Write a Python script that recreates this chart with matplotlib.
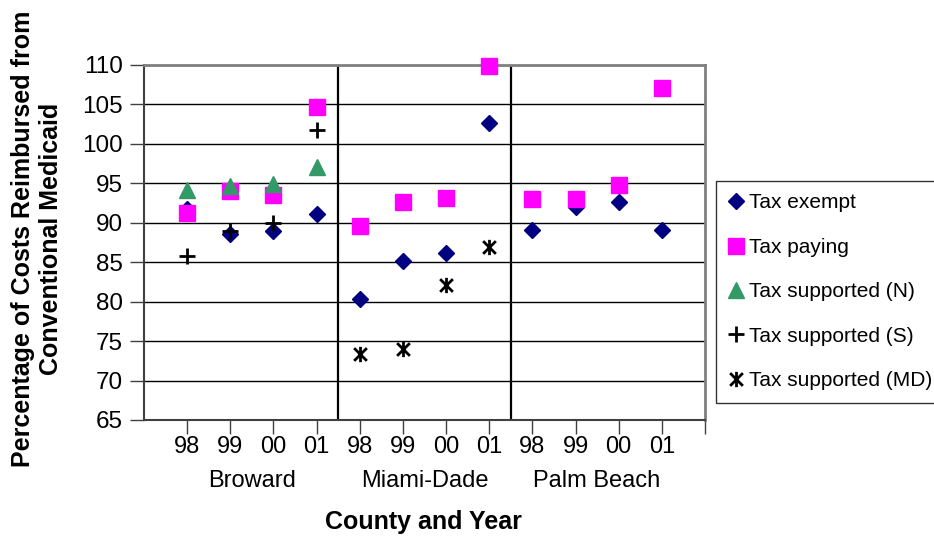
import matplotlib.pyplot as plt
import numpy as np
from matplotlib.path import Path

plt.rcParams['font.family'] = ['Liberation Sans', 'DejaVu Sans']

years = ["98", "99", "00", "01"]
counties = ["Broward", "Miami-Dade", "Palm Beach"]

# one value per county-year, None where the hospital type is absent
tax_exempt = [91.8, 88.6, 89.0, 91.1, 80.4, 85.1, 86.2, 102.6, 89.1, 92.0, 92.6, 89.1]
tax_paying = [91.3, 94.0, 93.5, 104.7, 89.6, 92.6, 93.1, 109.9, 93.0, 93.0, 94.8, 107.1]
tax_supp_n = [94.2, 94.7, 94.9, 97.1] + [None] * 8
tax_supp_s = [85.8, 88.9, 90.0, 101.7] + [None] * 8
tax_supp_md = [None] * 4 + [73.4, 74.0, 82.1, 86.9] + [None] * 4

# excel style star: an X with a vertical bar through it
star = Path([(-1, -1), (1, 1), (-1, 1), (1, -1), (0, -1.2), (0, 1.2)],
            [Path.MOVETO, Path.LINETO, Path.MOVETO, Path.LINETO, Path.MOVETO, Path.LINETO])

series = [
    ("Tax exempt", tax_exempt, dict(marker="D", color="#000080", ms=8.5, mec="#000080")),
    ("Tax paying", tax_paying, dict(marker="s", color="#ff00ff", ms=11.5, mec="#ff00ff")),
    ("Tax supported (N)", tax_supp_n, dict(marker="^", color="#339966", ms=11, mec="#339966")),
    ("Tax supported (S)", tax_supp_s, dict(marker="+", color="black", ms=12, mew=2)),
    ("Tax supported (MD)", tax_supp_md, dict(marker=star, color="black", ms=11, mew=2, mfc="none")),
]

W, H = 934, 537
fig = plt.figure(figsize=(W / 100, H / 100), dpi=100)
ax = fig.add_axes([144 / W, 1 - 420 / H, 561 / W, 355 / H])

x = np.arange(1, 13)
for name, vals, style in series:
    xs = [xi for xi, v in zip(x, vals) if v is not None]
    ys = [v for v in vals if v is not None]
    ax.plot(xs, ys, linestyle="none", label=name, zorder=3, clip_on=False, **style)

ax.set_xlim(0, 13)
ax.set_ylim(65, 110)
ax.set_yticks(np.arange(65, 111, 5))
ax.yaxis.grid(True, color="black", linewidth=1)
ax.set_axisbelow(True)
ax.tick_params(axis="y", labelsize=17.5, length=10, width=1, color="#404040", pad=5)

# county separators
for sep in (4.5, 8.5):
    ax.axvline(sep, color="black", linewidth=1.6, zorder=2)

ax.set_xticks(list(x) + [13])
ax.set_xticklabels([])
ax.tick_params(axis="x", length=10, width=1, color="#404040", direction="out")
xfig = ax.get_xaxis_transform()
for xi, lab in zip(x, years * 3):
    ax.annotate(lab, (xi, 0), xycoords=xfig, xytext=(0, -(447 - 420)), textcoords="offset pixels",
                ha="center", va="center", fontsize=17)
for i, c in enumerate(counties):
    ax.annotate(c, (2.5 + 4 * i, 0), xycoords=xfig, xytext=(0, -(481 - 420)),
                textcoords="offset pixels", ha="center", va="center", fontsize=17)

for side in ("top", "right"):
    ax.spines[side].set_color("#808080")
    ax.spines[side].set_linewidth(2)
for side in ("left", "bottom"):
    ax.spines[side].set_color("#404040")
    ax.spines[side].set_linewidth(1.5)

fig.text(423 / W, 1 - 522 / H, "County and Year", ha="center", va="center",
         fontsize=18, fontweight="bold")
fig.text(37 / W, 1 - 239 / H, "Percentage of Costs Reimbursed from\nConventional Medicaid",
         ha="center", va="center", rotation=90, fontsize=18, fontweight="bold", linespacing=1.25)

leg = ax.legend(loc="upper left", bbox_to_anchor=(716 / W, 1 - 181 / H),
                bbox_transform=fig.transFigure, frameon=True, fancybox=False,
                edgecolor="black", fontsize=15, handlelength=0.7, handletextpad=0.3,
                labelspacing=1.22, borderpad=0.6, borderaxespad=0, markerscale=1.0)
leg.get_frame().set_linewidth(1)

fig.savefig("out.png", dpi=100)
